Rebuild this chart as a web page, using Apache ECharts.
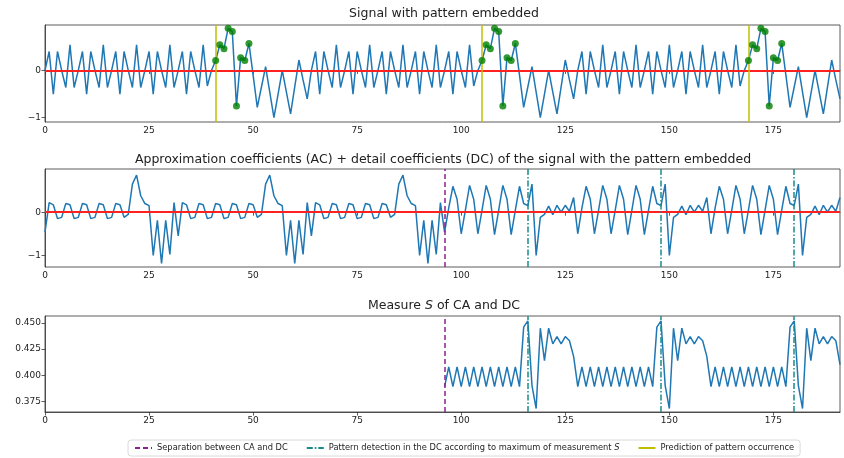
<!DOCTYPE html>
<html>
<head>
<meta charset="UTF-8">
<script src="https://cdn.jsdelivr.net/npm/echarts@6/dist/echarts.min.js"></script>
<style>
  html, body { margin: 0; padding: 0; background: #fff; }
  #main { width: 844px; height: 458px; }
</style>
</head>
<body>
<div id="main"></div>
<script>
// signal with the pattern embedded (3 blocks of 64 samples)
const signal = [
  0, 0.4, -0.5, 0.4, 0, -0.36, 0.54, -0.36,
  0, 0.4, -0.5, 0.4, 0, -0.36, 0.54, -0.36,
  0, 0.4, -0.5, 0.4, 0, -0.36, 0.54, -0.36,
  0, 0.4, -0.5, 0.4, 0, -0.36, 0.54, -0.36,
  0, 0.4, -0.5, 0.4, 0, -0.36, 0.54, -0.33,
  0, 0.21, 0.54, 0.46, 0.89, 0.82, -0.75, 0.27,
  0.21, 0.57, -0.1, -0.78, -0.35, 0.08, -0.46, -1.0,
  -0.5, 0.0, -0.46, -0.92, -0.35, 0.22, -0.2, -0.6,
  0, 0.4, -0.5, 0.4, 0, -0.36, 0.54, -0.36,
  0, 0.4, -0.5, 0.4, 0, -0.36, 0.54, -0.36,
  0, 0.4, -0.5, 0.4, 0, -0.36, 0.54, -0.36,
  0, 0.4, -0.5, 0.4, 0, -0.36, 0.54, -0.36,
  0, 0.4, -0.5, 0.4, 0, -0.36, 0.54, -0.33,
  0, 0.21, 0.54, 0.46, 0.89, 0.82, -0.75, 0.27,
  0.21, 0.57, -0.1, -0.78, -0.35, 0.08, -0.46, -1.0,
  -0.5, 0.0, -0.46, -0.92, -0.35, 0.22, -0.2, -0.6,
  0, 0.4, -0.5, 0.4, 0, -0.36, 0.54, -0.36,
  0, 0.4, -0.5, 0.4, 0, -0.36, 0.54, -0.36,
  0, 0.4, -0.5, 0.4, 0, -0.36, 0.54, -0.36,
  0, 0.4, -0.5, 0.4, 0, -0.36, 0.54, -0.36,
  0, 0.4, -0.5, 0.4, 0, -0.36, 0.54, -0.33,
  0, 0.21, 0.54, 0.46, 0.89, 0.82, -0.75, 0.27,
  0.21, 0.57, -0.1, -0.78, -0.35, 0.08, -0.46, -1.0,
  -0.5, 0.0, -0.46, -0.92, -0.35, 0.22, -0.2, -0.6
];

// approximation coefficients (x 0..95)
const approx = [
  -0.46, 0.22, 0.17, -0.15, -0.12, 0.2, 0.17, -0.15,
  -0.12, 0.2, 0.17, -0.15, -0.12, 0.2, 0.17, -0.15,
  -0.12, 0.2, 0.17, -0.12, -0.05, 0.65, 0.86, 0.38,
  0.2, 0.15, -1.0, -0.19, -1.19, -0.19, -0.98, 0.22,
  -0.55, 0.22, 0.17, -0.15, -0.12, 0.2, 0.17, -0.15,
  -0.12, 0.2, 0.17, -0.15, -0.12, 0.2, 0.17, -0.15,
  -0.12, 0.2, 0.17, -0.12, -0.05, 0.65, 0.86, 0.38,
  0.2, 0.15, -1.0, -0.19, -1.19, -0.19, -0.98, 0.22,
  -0.55, 0.22, 0.17, -0.15, -0.12, 0.2, 0.17, -0.15,
  -0.12, 0.2, 0.17, -0.15, -0.12, 0.2, 0.17, -0.15,
  -0.12, 0.2, 0.17, -0.12, -0.05, 0.65, 0.86, 0.38,
  0.2, 0.15, -1.0, -0.19, -1.19, -0.19, -0.98, 0.22
];

// detail coefficients (x 96..191)
const detail = [
  -0.46, 0.1, 0.6, 0.3, -0.5, 0.05, 0.62, 0.3,
  -0.5, 0.05, 0.62, 0.3, -0.52, 0.05, 0.62, 0.3,
  -0.52, 0.05, 0.6, 0.2, 0.15, 0.65, -1.0, -0.12,
  -0.05, 0.14, -0.06, 0.16, 0.0, 0.16, 0.02, 0.34,
  -0.5, 0.1, 0.6, 0.3, -0.5, 0.05, 0.62, 0.3,
  -0.5, 0.05, 0.62, 0.3, -0.52, 0.05, 0.62, 0.3,
  -0.52, 0.05, 0.6, 0.2, 0.15, 0.65, -1.0, -0.12,
  -0.05, 0.14, -0.06, 0.16, 0.0, 0.16, 0.02, 0.34,
  -0.5, 0.1, 0.6, 0.3, -0.5, 0.05, 0.62, 0.3,
  -0.5, 0.05, 0.62, 0.3, -0.52, 0.05, 0.62, 0.3,
  -0.52, 0.05, 0.6, 0.2, 0.15, 0.65, -1.0, -0.12,
  -0.05, 0.14, -0.06, 0.16, 0.0, 0.16, 0.02, 0.34
];

// measure S (x 96..191)
const measure = [
  0.389, 0.408, 0.389, 0.408, 0.389, 0.408, 0.389, 0.408,
  0.389, 0.408, 0.389, 0.408, 0.389, 0.408, 0.389, 0.408,
  0.389, 0.408, 0.389, 0.446, 0.452, 0.39, 0.368, 0.445,
  0.414, 0.445, 0.43, 0.437, 0.43, 0.437, 0.433, 0.418,
  0.389, 0.408, 0.389, 0.408, 0.389, 0.408, 0.389, 0.408,
  0.389, 0.408, 0.389, 0.408, 0.389, 0.408, 0.389, 0.408,
  0.389, 0.408, 0.389, 0.446, 0.452, 0.39, 0.368, 0.445,
  0.414, 0.445, 0.43, 0.437, 0.43, 0.437, 0.433, 0.418,
  0.389, 0.408, 0.389, 0.408, 0.389, 0.408, 0.389, 0.408,
  0.389, 0.408, 0.389, 0.408, 0.389, 0.408, 0.389, 0.408,
  0.389, 0.408, 0.389, 0.446, 0.452, 0.39, 0.368, 0.445,
  0.414, 0.445, 0.43, 0.437, 0.43, 0.437, 0.433, 0.41
];

const measureStart = 96;
const separation = 96;
const detections = [116, 148, 180];
const predictions = [41, 105, 169];
const patternLength = 9;
const xTicks = [0, 25, 50, 75, 100, 125, 150, 175];
const yTicksTop = [-1, 0];
const yTicksMid = [-1, 0];
const yTicksBot = [0.375, 0.4, 0.425, 0.45];

const SEP_NAME = 'Separation between CA and DC';
const DET_NAME = 'Pattern detection in the DC according to maximum of measurement S';
const PRED_NAME = 'Prediction of pattern occurrence';

const font = 'DejaVu Sans';
const blue = '#1f77b4';
const sepStyle = { color: '#8f1f8f', width: 1.5, type: [5, 3] };
const detStyle = { color: '#178c8a', width: 1.5, type: [6, 2, 1.5, 2] };
const predStyle = { color: '#bfbf00', width: 1.5, type: 'solid' };

const signalPts = signal.map((v, i) => [i, v]);
const coeffPts = approx.concat(detail).map((v, i) => [i, v]);
const measurePts = measure.map((v, i) => [measureStart + i, v]);
const markerPts = [];
predictions.forEach(p => {
  for (let k = 0; k < patternLength; k++) markerPts.push([p + k, signal[p + k]]);
});

const minus = v => (v < 0 ? '\u2212' + Math.abs(v) : String(v));

function xAxis(idx) {
  return {
    type: 'value', gridIndex: idx, min: 0, max: 191,
    axisLine: { show: true, lineStyle: { color: '#333', width: 0.8 } },
    axisTick: { show: true, length: 3.5, customValues: xTicks, lineStyle: { color: '#333', width: 0.8 } },
    axisLabel: { customValues: xTicks, fontSize: 9, color: '#222', fontFamily: font, margin: 4 },
    splitLine: { show: false }
  };
}
function yAxis(idx, min, max, ticks, fmt) {
  return {
    type: 'value', gridIndex: idx, min: min, max: max,
    axisLine: { show: true, lineStyle: { color: '#333', width: 0.8 } },
    axisTick: { show: true, length: 3.5, customValues: ticks, lineStyle: { color: '#333', width: 0.8 } },
    axisLabel: { customValues: ticks, fontSize: 9, color: '#222', fontFamily: font, margin: 4, formatter: fmt },
    splitLine: { show: false }
  };
}
function vLines(name, idx, values, style) {
  return {
    name: name, type: 'line', xAxisIndex: idx, yAxisIndex: idx, data: [],
    symbol: 'none', lineStyle: style, itemStyle: { color: style.color }, z: 6,
    markLine: { silent: true, symbol: 'none', label: { show: false }, lineStyle: style,
      data: values.map(v => ({ xAxis: v })) }
  };
}
function zeroLine(idx) {
  return {
    type: 'line', xAxisIndex: idx, yAxisIndex: idx, data: [], z: 4,
    markLine: { silent: true, symbol: 'none', label: { show: false },
      lineStyle: { color: '#ff2020', width: 2, type: 'solid' }, data: [{ yAxis: 0 }] }
  };
}

const titleStyle = { fontSize: 12.5, fontWeight: 'normal', color: '#222', fontFamily: font };

const chart = echarts.init(document.getElementById('main'));
chart.setOption({
  animation: false,
  backgroundColor: '#fff',
  title: [
    { text: 'Signal with pattern embedded', left: 439, top: 2, textAlign: 'center', textStyle: titleStyle },
    { text: 'Approximation coefficients (AC) + detail coefficients (DC) of the signal with the pattern embedded',
      left: 438, top: 148, textAlign: 'center', textStyle: titleStyle },
    { text: 'Measure {i|S} of CA and DC', left: 439, top: 294, textAlign: 'center',
      textStyle: Object.assign({}, titleStyle, {
        rich: { i: { fontSize: 12.5, fontStyle: 'italic', color: '#222', fontFamily: font } } }) }
  ],
  grid: [
    { left: 45, right: 4, top: 25, height: 97, show: true, borderColor: '#333', borderWidth: 0.8 },
    { left: 45, right: 4, top: 169, height: 98, show: true, borderColor: '#333', borderWidth: 0.8 },
    { left: 45, right: 4, top: 316, height: 96, show: true, borderColor: '#333', borderWidth: 0.8 }
  ],
  xAxis: [xAxis(0), xAxis(1), xAxis(2)],
  yAxis: [
    yAxis(0, -1.09, 0.96, yTicksTop, minus),
    yAxis(1, -1.27, 1.0, yTicksMid, minus),
    yAxis(2, 0.3647, 0.4567, yTicksBot, v => v.toFixed(3))
  ],
  legend: {
    bottom: 2, left: 128,
    data: [SEP_NAME, DET_NAME, PRED_NAME],
    itemWidth: 17, itemHeight: 8, itemGap: 18,
    padding: [4, 6], borderColor: '#d0d0d0', borderWidth: 0.8, borderRadius: 3,
    itemStyle: { opacity: 0 },
    formatter: n => (n === DET_NAME ? n.slice(0, -1) + '{i|S}' : n),
    textStyle: { fontSize: 8.3, color: '#222', fontFamily: font,
      rich: { i: { fontSize: 8.3, fontStyle: 'italic', color: '#222', fontFamily: font } } }
  },
  series: [
    { type: 'line', xAxisIndex: 0, yAxisIndex: 0, data: signalPts, symbol: 'none',
      lineStyle: { color: blue, width: 1.5 }, z: 3 },
    zeroLine(0),
    { type: 'scatter', xAxisIndex: 0, yAxisIndex: 0, data: markerPts, symbolSize: 7,
      itemStyle: { color: '#008000' }, z: 7 },
    vLines(PRED_NAME, 0, predictions, predStyle),

    { type: 'line', xAxisIndex: 1, yAxisIndex: 1, data: coeffPts, symbol: 'none',
      lineStyle: { color: blue, width: 1.5 }, z: 3 },
    zeroLine(1),
    vLines(SEP_NAME, 1, [separation], sepStyle),
    vLines(DET_NAME, 1, detections, detStyle),

    { type: 'line', xAxisIndex: 2, yAxisIndex: 2, data: measurePts, symbol: 'none',
      lineStyle: { color: blue, width: 1.5 }, z: 3 },
    vLines(SEP_NAME, 2, [separation], sepStyle),
    vLines(DET_NAME, 2, detections, detStyle)
  ]
});
</script>
</body>
</html>
